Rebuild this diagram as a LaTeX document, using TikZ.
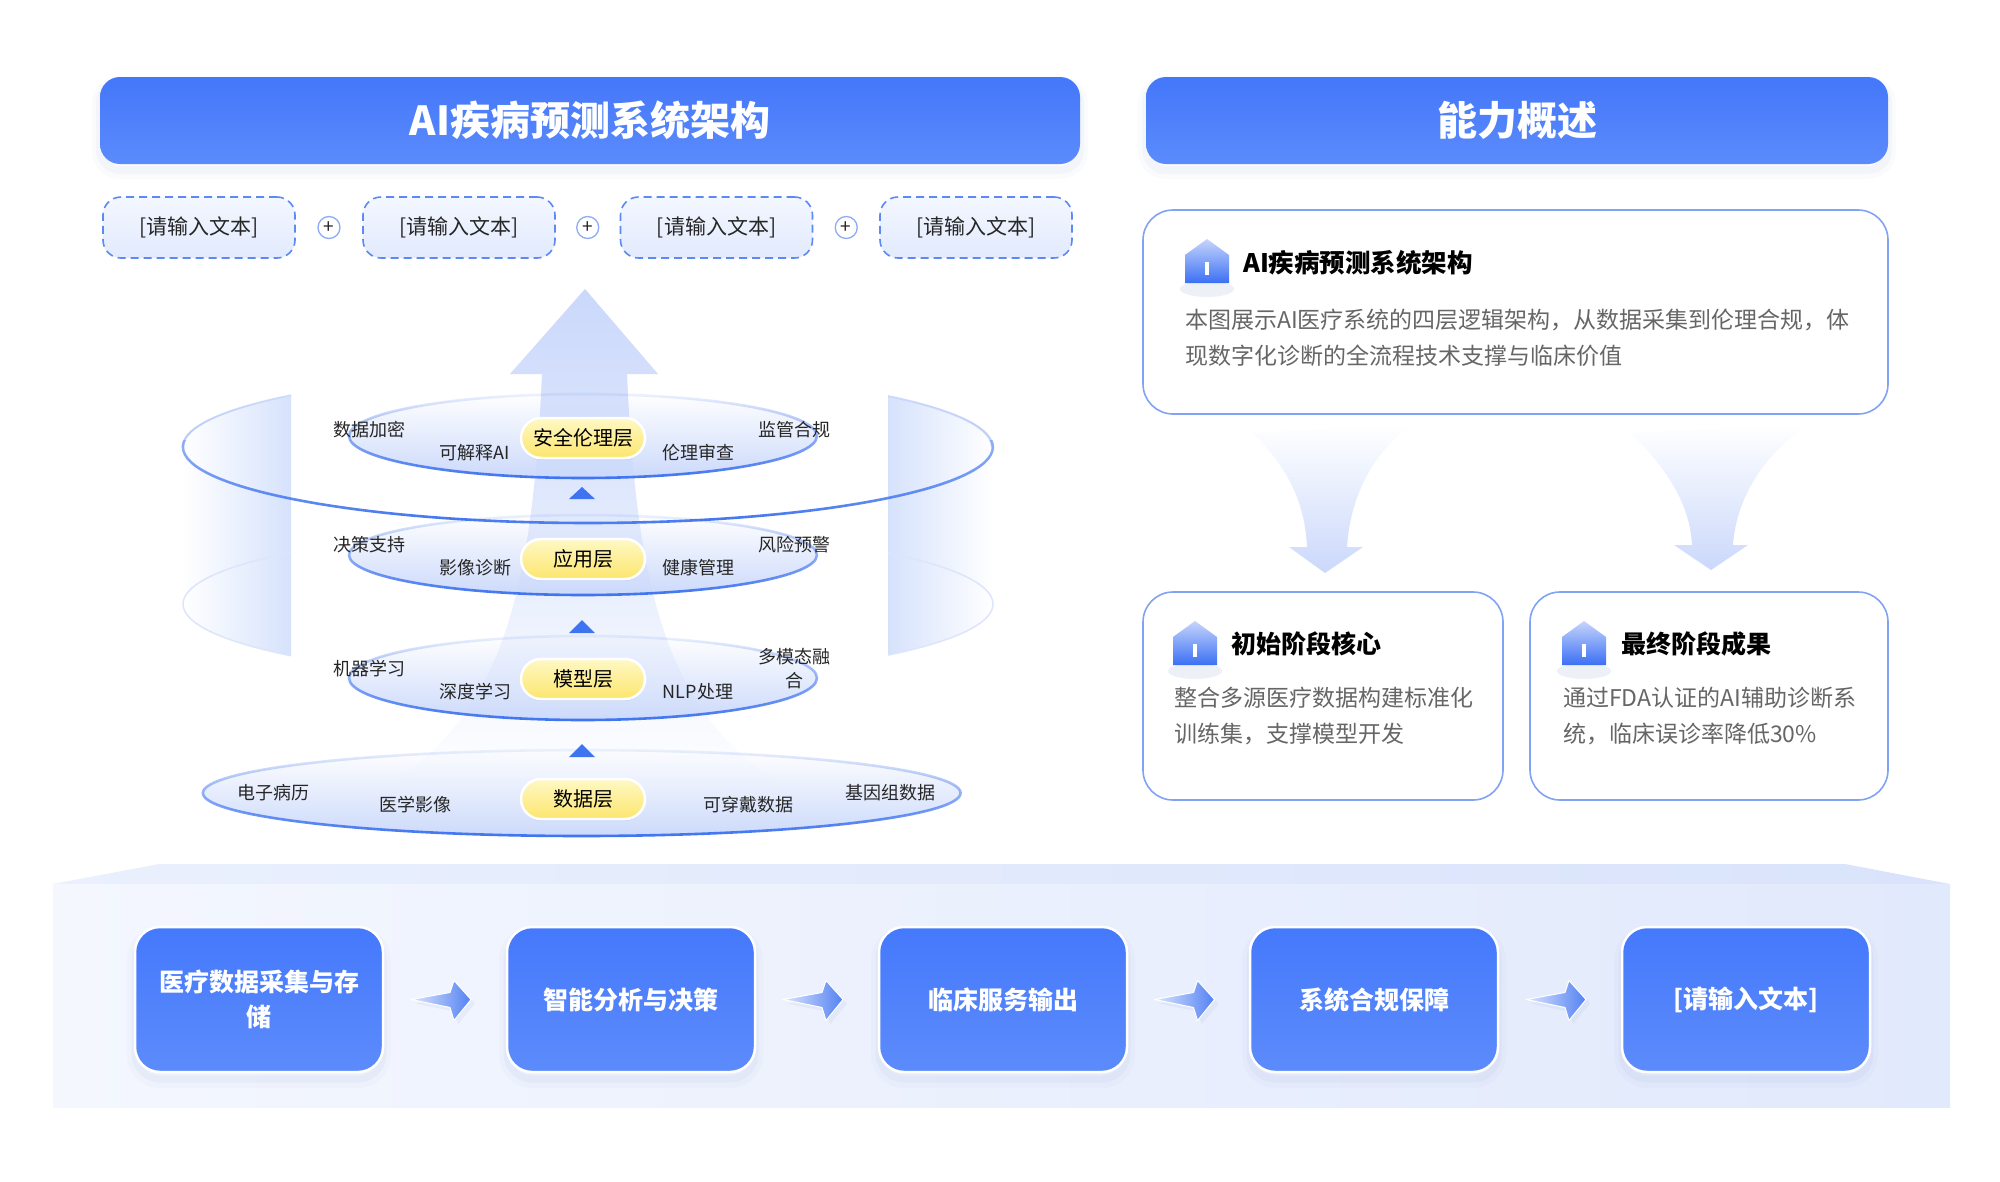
\documentclass[tikz,border=0pt]{standalone}
\usepackage{fontspec}
\setmainfont{Noto Sans CJK SC}
\usetikzlibrary{calc,fadings,shapes.misc}
\definecolor{titleA}{HTML}{4477FA}
\definecolor{titleB}{HTML}{5B8BFC}
\definecolor{dashc}{HTML}{5D89F3}
\definecolor{dboxA}{HTML}{F3F7FF}
\definecolor{dboxB}{HTML}{E2EAFD}
\definecolor{pillA}{HTML}{FFF8C4}
\definecolor{pillB}{HTML}{FCE66E}
\definecolor{lineblue}{HTML}{3E73F0}
\definecolor{ellfill}{HTML}{CCDAFB}
\definecolor{wallc}{HTML}{D6E2FC}
\definecolor{wallline}{HTML}{DCE5FB}
\definecolor{beamA}{HTML}{CAD8FB}
\definecolor{beamB}{HTML}{B3C7F8}
\definecolor{tri}{HTML}{3F74F1}
\definecolor{txtdark}{HTML}{262626}
\definecolor{cardc}{HTML}{82A3F4}
\definecolor{bodyc}{HTML}{666666}
\definecolor{iconA}{HTML}{C7D5FC}
\definecolor{iconB}{HTML}{3B70F4}
\definecolor{boxA}{HTML}{4579FC}
\definecolor{boxB}{HTML}{5C8BFB}
\definecolor{arrA}{HTML}{DCE5FD}
\definecolor{arrB}{HTML}{5382F3}
\definecolor{bandtopL}{HTML}{EAF0FD}
\definecolor{bandtopR}{HTML}{D9E3FB}
\definecolor{bandL}{HTML}{F4F7FE}
\definecolor{bandR}{HTML}{E1E9FC}
\definecolor{divc}{HTML}{9DADF0}
\definecolor{shadowc}{HTML}{7388C4}
\definecolor{plusc}{HTML}{8FABF5}
\tikzfading[name=fadeup, top color=transparent!92, bottom color=transparent!0]
\tikzfading[name=fadeupfull, top color=transparent!100, bottom color=transparent!0]
\newcommand\cardicon[2]{%
  \fill[shadowc, opacity=.12] (#1,#2+50) ellipse[x radius=27pt, y radius=8pt];
  \shade[top color=iconA, bottom color=iconB] (#1,#2) -- (#1+22,#2+16) -- (#1+22,#2+44) -- (#1-22,#2+44) -- (#1-22,#2+16) -- cycle;
  \fill[white] (#1-2,#2+23) rectangle (#1+2,#2+36);}
\newcommand\layerell[4]{%
  \fill[ellfill, path fading=fadeupfull] (#1,#2) ellipse[x radius=#3pt, y radius=#4pt];
  \draw[lineblue, line width=2.6pt, path fading=fadeup] (#1,#2) ellipse[x radius=#3pt, y radius=#4pt];}
\newcommand\flowarrow[2]{%
  \begin{scope}[shift={($(#1.east)!0.5!(#2.west)$)}]
    \fill[shadowc, opacity=.08] (-30,4) -- (9,-3) -- (13,-15) -- (30,4) -- (13,25) -- (9,12) -- cycle;
    \shade[left color=arrA, right color=arrB, draw=white, line width=1pt] (-34,0) -- (5,-7) -- (9,-19) -- (26,0) -- (9,21) -- (5,8) -- cycle;
  \end{scope}}
\begin{document}
\begin{tikzpicture}[x=1pt,y=-1pt,line join=round,
  lbl/.style={font=\fontsize{18pt}{22pt}\selectfont, text=txtdark, inner sep=0pt, align=center},
  pill/.style={rounded rectangle, minimum width=124pt, minimum height=40pt, inner sep=0pt, draw=white, line width=2.5pt, top color=pillA, bottom color=pillB, font=\fontsize{20pt}{24pt}\selectfont, text=black,
    preaction={fill=shadowc, opacity=.12, transform canvas={yshift=-2pt}}},
  dbox/.style={rounded corners=18pt, draw=dashc, dash pattern=on 8pt off 5pt, line width=1.6pt, top color=dboxA, bottom color=dboxB, minimum width=192pt, minimum height=61pt, inner sep=0pt, font=\fontsize{21pt}{26pt}\selectfont, text=txtdark},
  plusnode/.style={circle, draw=plusc, line width=1.3pt, fill=white, minimum size=22pt, inner sep=0pt, font=\fontsize{19pt}{19pt}\selectfont, text=txtdark},
  titlebar/.style={rounded corners=20pt, top color=titleA, bottom color=titleB, minimum height=87pt, inner sep=0pt, font=\bfseries\fontsize{40pt}{48pt}\selectfont, text=white,
    preaction={draw=shadowc, line width=16pt, opacity=.03, transform canvas={yshift=-7pt}},
    preaction={draw=shadowc, line width=8pt, opacity=.05, transform canvas={yshift=-6pt}}},
  card/.style={rounded corners=30pt, draw=cardc, line width=1.6pt, fill=white, inner sep=0pt},
  cardtitle/.style={font=\bfseries\fontsize{25pt}{30pt}\selectfont, text=black, inner sep=0pt, anchor=west},
  cardbody/.style={font=\fontsize{23pt}{28pt}\selectfont, text=bodyc, inner sep=0pt, anchor=west},
  flowbox/.style={rounded corners=25pt, draw=white, line width=2.5pt, top color=boxA, bottom color=boxB, minimum width=248pt, minimum height=145pt, inner sep=0pt, align=center, font=\bfseries\fontsize{25pt}{35pt}\selectfont, text=white,
    preaction={draw=shadowc, line width=16pt, opacity=.03, transform canvas={yshift=-8pt}},
    preaction={draw=shadowc, line width=7pt, opacity=.06, transform canvas={yshift=-7pt}}},
]
\useasboundingbox (0,0) rectangle (2000,1181);
\fill[white] (0,0) rectangle (2000,1181);

% ---------- left title and inputs
\node[titlebar, minimum width=980pt] (t1) at (590,120.5) {AI疾病预测系统架构};
\node[dbox] (d1) at (199,227.5) {[请输入文本]};
\node[dbox] (d2) at (459,227.5) {[请输入文本]};
\node[dbox] (d3) at (716.5,227.5) {[请输入文本]};
\node[dbox] (d4) at (976,227.5) {[请输入文本]};
\node[plusnode] (pl1) at ($(d1.east)!0.5!(d2.west)$) {+};
\node[plusnode] (pl2) at ($(d2.east)!0.5!(d3.west)$) {+};
\node[plusnode] (pl3) at ($(d3.east)!0.5!(d4.west)$) {+};

% ---------- cylinder walls
\begin{scope}
  \clip (183,447) -- (183,604) arc[start angle=180, end angle=360, x radius=405pt, y radius=76pt] -- (993,447) arc[start angle=0, end angle=180, x radius=405pt, y radius=76pt] -- cycle;
  \shade[left color=white, right color=wallc] (183,360) rectangle (291,700);
  \shade[left color=wallc, right color=white] (888,360) rectangle (993,700);
\end{scope}
\begin{scope}
  \clip (170,360) rectangle (291,700) (888,360) rectangle (1010,700);
  \draw[wallline, line width=1.5pt] (588,604) ellipse[x radius=405pt, y radius=76pt];
  \draw[wallline, line width=1.5pt] (588,447) ellipse[x radius=405pt, y radius=76pt];
\end{scope}

% ---------- beam arrow
\shade[top color=beamA, middle color=beamB, bottom color=white]
  (585,289) -- (658,374) -- (627,374) .. controls (637,600) and (670,720) .. (790,790)
  -- (380,790) .. controls (500,720) and (532,600) .. (542,374) -- (510,374) -- cycle;

% outer ring: lower half strong, fading up the sides
\begin{scope}
  \clip (150,440) rectangle (1030,540);
  \draw[lineblue, line width=2.6pt, path fading=fadeupfull] (588,447) ellipse[x radius=405pt, y radius=76pt];
\end{scope}
\begin{scope}
  \clip (150,380) rectangle (291,447) (888,380) rectangle (1030,447);
  \draw[lineblue!55!wallline, line width=2pt, path fading=fadeupfull] (588,447) ellipse[x radius=405pt, y radius=76pt];
\end{scope}

% ---------- layers
\layerell{582}{793}{379}{43}
\layerell{583}{678}{234}{42}
\layerell{583}{555}{234}{40}
\layerell{583}{436}{234}{42}

\fill[tri] (569,499) -- (595,499) -- (582,487) -- cycle;
\fill[tri] (569,633) -- (595,633) -- (582,620) -- cycle;
\fill[tri] (569,757) -- (595,757) -- (582,744) -- cycle;

\node[pill] (p1) at (583,438) {安全伦理层};
\node[pill] (p2) at (583,559) {应用层};
\node[pill] (p3) at (583,679) {模型层};
\node[pill] (p4) at (583,799) {数据层};

\node[lbl] (l11) at (369,430) {数据加密};
\node[lbl] (l12) at (475,453) {可解释AI};
\node[lbl] (l13) at (698,453) {伦理审查};
\node[lbl] (l14) at (794,430) {监管合规};
\node[lbl] (l21) at (369,545) {决策支持};
\node[lbl] (l22) at (475,568) {影像诊断};
\node[lbl] (l23) at (698,568) {健康管理};
\node[lbl] (l24) at (794,545) {风险预警};
\node[lbl] (l31) at (369,669) {机器学习};
\node[lbl] (l32) at (475,692) {深度学习};
\node[lbl] (l33) at (698,692) {NLP处理};
\node[lbl, font=\fontsize{18pt}{24pt}\selectfont] (l34) at (794,669) {多模态融\\合};
\node[lbl] (l41) at (273,793) {电子病历};
\node[lbl] (l42) at (415,805) {医学影像};
\node[lbl] (l43) at (748,805) {可穿戴数据};
\node[lbl] (l44) at (890,793) {基因组数据};

% ---------- divider
\shade[top color=white, middle color=divc, bottom color=white] (1109.5,70) rectangle (1112,850);

% ---------- right side
\node[titlebar, minimum width=742pt] (t2) at (1517,120.5) {能力概述};

\node[card, minimum width=745pt, minimum height=204pt] (c1) at (1515.5,312) {};
\cardicon{1207}{239}
\node[cardtitle, font=\bfseries\fontsize{25.5pt}{30pt}\selectfont] (c1t) at (1243,263) {AI疾病预测系统架构};
\node[cardbody] (c1a) at (1185,320) {本图展示AI医疗系统的四层逻辑架构，从数据采集到伦理合规，体};
\node[cardbody] (c1b) at (1185,356) {现数字化诊断的全流程技术支撑与临床价值};

% funnel arrows
\shade[top color=white, bottom color=beamA]
  (1253,433) .. controls (1290,470) and (1305,505) .. (1307,547) -- (1289,547) -- (1325,573) -- (1363,547) -- (1347,547)
  .. controls (1350,500) and (1370,455) .. (1411,425) -- cycle;
\shade[top color=white, bottom color=beamA]
  (1631,433) .. controls (1668,470) and (1690,505) .. (1692,545) -- (1674,545) -- (1711,570) -- (1748,545) -- (1733,545)
  .. controls (1736,498) and (1765,452) .. (1809,425) -- cycle;

\node[card, minimum width=360pt, minimum height=208pt] (c2) at (1323,696) {};
\node[card, minimum width=358pt, minimum height=208pt] (c3) at (1709,696) {};
\cardicon{1195}{621}
\cardicon{1584}{621}
\node[cardtitle] (c2t) at (1231,644) {初始阶段核心};
\node[cardtitle] (c3t) at (1621,644) {最终阶段成果};
\node[cardbody] (c2a) at (1174,698) {整合多源医疗数据构建标准化};
\node[cardbody] (c2b) at (1174,734) {训练集，支撑模型开发};
\node[cardbody] (c3a) at (1563,698) {通过FDA认证的AI辅助诊断系};
\node[cardbody] (c3b) at (1563,734) {统，临床误诊率降低30\%};

% ---------- bottom band
\shade[left color=bandtopL, right color=bandtopR] (159,864) -- (1845,864) -- (1950,884) -- (53,884) -- cycle;
\shade[left color=bandL, right color=bandR] (53,884) rectangle (1950,1107);

\node[flowbox] (b1) at (259,999.5) {医疗数据采集与存\\储};
\node[flowbox] (b2) at (631,999.5) {智能分析与决策};
\node[flowbox] (b3) at (1003,999.5) {临床服务输出};
\node[flowbox] (b4) at (1374,999.5) {系统合规保障};
\node[flowbox] (b5) at (1746,999.5) {[请输入文本]};
\flowarrow{b1}{b2}
\flowarrow{b2}{b3}
\flowarrow{b3}{b4}
\flowarrow{b4}{b5}
\end{tikzpicture}
\end{document}
